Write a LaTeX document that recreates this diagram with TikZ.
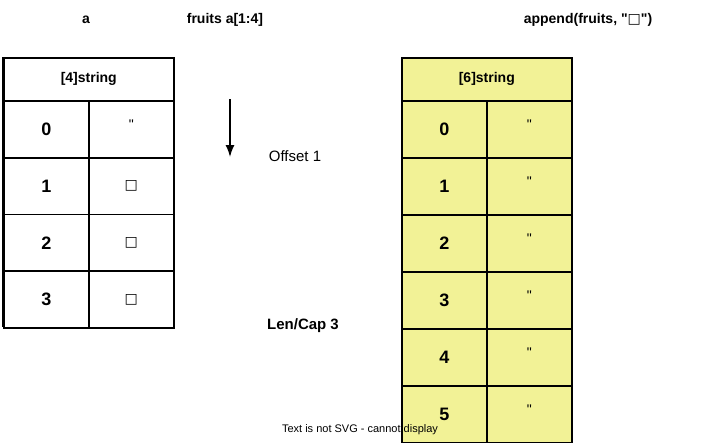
\documentclass[tikz,border=0pt]{standalone}
\usepackage{fontspec}
\usetikzlibrary{arrows.meta}
\setmainfont{Liberation Sans}
\newfontfamily\symf{DejaVu Sans}
\definecolor{cellyellow}{RGB}{242,242,150}
\newcommand{\sq}{{\symf □}}
\newcommand{\dq}{\textquotedbl}
\begin{document}
\begin{tikzpicture}[x=1pt,y=-1pt,
  cell/.style={draw=black,line width=1.6pt,minimum width=85pt,minimum height=57pt,inner sep=0pt,font=\bfseries\fontsize{18}{20}\selectfont,anchor=north west},
  head/.style={draw=black,line width=1.6pt,minimum width=170pt,minimum height=43pt,inner sep=0pt,font=\bfseries\fontsize{14}{16}\selectfont,anchor=north west},
  lbl/.style={font=\bfseries\fontsize{14}{16}\selectfont},
  val/.style={font=\fontsize{14}{16}\selectfont}]
\useasboundingbox (0,0) rectangle (720,442);
\node[lbl] (ta) at (86,20) {a};
\node[lbl] (tf) at (225,20) {fruits a[1:4]};
\node[lbl] (tp) at (588,20) {append(fruits, \dq\sq\dq)};
% left table
\node[head] (lh) at (3,57) {[4]string};
\foreach \i in {0,...,3}{
  \node[cell] (li\i) at (3,100+56.75*\i) {\i};
  \node[cell] (lv\i) at (88,100+56.75*\i) {};
}
\node[val] at ([yshift=5pt]lv0.center) {\dq};
\foreach \i in {1,2,3}{\node[val] at (lv\i.center) {\sq};}
\draw[line width=3pt] (3,57) -- (3,327);
% right table
\node[head,fill=cellyellow] (rh) at (401,57) {[6]string};
\foreach \i in {0,...,5}{
  \node[cell,fill=cellyellow] (ri\i) at (401,100+57*\i) {\i};
  \node[cell,fill=cellyellow] (rv\i) at (486,100+57*\i) {};
  \node[val] at ([yshift=5pt]rv\i.center) {\dq};
}
\coordinate (as) at (230,99);
\coordinate (ae) at (230,157);
\draw[line width=1.5pt,-{Latex[length=12pt,width=9pt]}] (as) -- (ae);
\node[font=\fontsize{15}{17}\selectfont] (off) at (295,156) {Offset 1};
\node[font=\bfseries\fontsize{15}{17}\selectfont] (len) at (303,326) {Len/Cap 3};
\node[font=\fontsize{11}{13}\selectfont] (svg) at (360,430) {Text is not SVG - cannot display};
\end{tikzpicture}
\end{document}
